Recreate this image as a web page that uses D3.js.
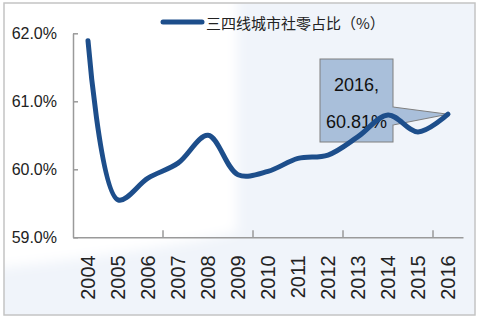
<!DOCTYPE html>
<html>
<head>
<meta charset="utf-8">
<script src="https://cdn.jsdelivr.net/npm/d3@7"></script>
<style>
  body { margin: 0; background: #fff; }
  svg { display: block; font-family: "Liberation Sans", Arial, sans-serif; }
  .axis path, .axis line { stroke: #9a9a9a; stroke-width: 1.5; }
  .axis text { fill: #222; }
</style>
</head>
<body>
<div id="chart"></div>
<script>
const years = ['2004','2005','2006','2007','2008','2009','2010','2011','2012','2013','2014','2015','2016'];
const share = [61.89, 59.55, 59.87, 60.09, 60.5, 59.92, 59.97, 60.16, 60.21, 60.48, 60.8, 60.55, 60.81];
const yTicks = [59, 60, 61, 62];
const seriesName = '三四线城市社零占比（%）';
const calloutLines = ['2016,', '60.81%'];

const W = 480, H = 320;
const svg = d3.select('#chart').append('svg')
  .attr('width', W).attr('height', H);

// soft edge for the white area of the background
svg.append('defs').append('filter')
  .attr('id', 'soft')
  .attr('x', '-10%').attr('y', '-10%').attr('width', '120%').attr('height', '120%')
  .append('feGaussianBlur').attr('stdDeviation', 6);

// background: white left, light blue right
svg.append('rect')
  .attr('x', 4).attr('y', 3).attr('width', 471).attr('height', 312)
  .attr('fill', '#f0f4fa');
svg.append('path')
  .attr('d', 'M-20,-20 L237,-20 L237,232 Q150,252 -20,270 Z')
  .attr('fill', '#ffffff')
  .attr('filter', 'url(#soft)');
svg.append('rect')
  .attr('x', 4).attr('y', 3).attr('width', 471).attr('height', 312)
  .attr('fill', 'none').attr('stroke', '#c4c4c4').attr('stroke-width', 1.5);

const x = d3.scaleBand()
  .domain(years)
  .range([73, 463])
  .padding(0);

const y = d3.scaleLinear()
  .domain([59, 62])
  .range([237.3, 33.3]);

const cx = d => x(d) + x.bandwidth() / 2;

// y axis
svg.append('g')
  .attr('class', 'axis')
  .attr('transform', 'translate(73,0)')
  .call(d3.axisLeft(y).tickValues(yTicks).tickSize(-5).tickSizeOuter(0).tickPadding(16)
    .tickFormat(d => d3.format('.1f')(d) + '%'))
  .selectAll('text')
  .style('font-size', '16px');

// x axis
const xAxis = svg.append('g')
  .attr('class', 'axis')
  .attr('transform', 'translate(0,237.3)')
  .call(d3.axisBottom(x).tickSize(0).tickSizeOuter(0));

xAxis.selectAll('text')
  .attr('transform', 'rotate(-90)')
  .attr('x', -18)
  .attr('y', 0)
  .attr('dy', '0.36em')
  .style('text-anchor', 'end')
  .style('font-size', '20px');

// inside tick marks every third category boundary
xAxis.selectAll('.tick-mark')
  .data(years.filter((d, i) => i > 0 && i % 3 === 0))
  .enter()
  .append('line')
  .attr('x1', d => x(d)).attr('x2', d => x(d))
  .attr('y1', 0).attr('y2', -7)
  .attr('stroke', '#9a9a9a').attr('stroke-width', 1.5);

// callout box
const last = years.length - 1;
const px = cx(years[last]), py = y(share[last]);
const box = { x: 320, y: 59, w: 73, h: 83 };

svg.append('path')
  .attr('d', `M${box.x + box.w},${box.y + 48} L${px},${py} L${box.x + box.w},${box.y + 66} Z`)
  .attr('fill', '#a9bfda').attr('stroke', '#7f7f7f').attr('stroke-width', 1);
svg.append('rect')
  .attr('x', box.x).attr('y', box.y).attr('width', box.w).attr('height', box.h)
  .attr('fill', '#a9bfda').attr('stroke', '#7f7f7f').attr('stroke-width', 1);
svg.append('rect')
  .attr('x', box.x + box.w - 1).attr('y', box.y + 48.5).attr('width', 2).attr('height', 17)
  .attr('fill', '#a9bfda');

svg.selectAll('.callout')
  .data(calloutLines)
  .enter()
  .append('text')
  .attr('x', box.x + box.w / 2)
  .attr('y', (d, i) => box.y + 26 + i * 37)
  .attr('text-anchor', 'middle')
  .attr('dominant-baseline', 'central')
  .style('font-size', '18px')
  .attr('fill', '#111')
  .text(d => d);

// line
const line = d3.line()
  .x((d, i) => cx(years[i]))
  .y(d => y(d))
  .curve(d3.curveCatmullRom.alpha(0.5));

svg.append('path')
  .datum(share)
  .attr('d', line)
  .attr('fill', 'none')
  .attr('stroke', '#1d4e8b')
  .attr('stroke-width', 5)
  .attr('stroke-linecap', 'round')
  .attr('stroke-linejoin', 'round');

// legend
svg.append('line')
  .attr('x1', 163).attr('x2', 202)
  .attr('y1', 22).attr('y2', 22)
  .attr('stroke', '#1d4e8b').attr('stroke-width', 5)
  .attr('stroke-linecap', 'round');

svg.append('text')
  .attr('x', 206).attr('y', 22)
  .attr('dominant-baseline', 'central')
  .style('font-family', '"Noto Sans CJK SC", sans-serif')
  .style('font-size', '15px')
  .attr('fill', '#222')
  .text(seriesName);
</script>
</body>
</html>
